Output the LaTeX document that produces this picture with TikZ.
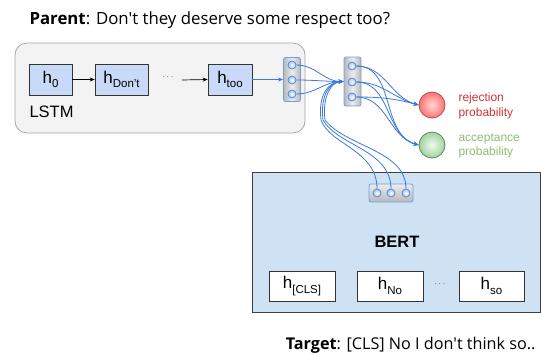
\documentclass[tikz,border=0pt]{standalone}
\usepackage{fontspec}
\setmainfont{Liberation Sans}
\newfontfamily\comic{Open Sans}
\usetikzlibrary{arrows.meta}
\definecolor{lblue}{HTML}{C9DAF8}
\definecolor{bertblue}{HTML}{CFE2F3}
\definecolor{lstmgray}{HTML}{F3F3F3}
\definecolor{lnblue}{HTML}{3C78D8}
\definecolor{vecedge}{HTML}{6D9EEB}
\definecolor{dotfill}{HTML}{A4C2F4}
\definecolor{redtxt}{HTML}{CC3333}
\definecolor{greentxt}{HTML}{8FBC6F}
\newcommand{\hsub}[1]{h\raisebox{-4.5pt}{\fontsize{11.5}{11.5}\selectfont #1}}
\begin{document}
\begin{tikzpicture}[x=1pt,y=-1pt,
  hbox/.style={draw=black!80,line width=0.6pt,fill=lblue,minimum height=31pt,inner sep=0pt,font=\fontsize{17}{17}\selectfont},
  wbox/.style={draw=black!80,line width=0.6pt,fill=white,minimum height=30pt,minimum width=66pt,inner sep=0pt,font=\fontsize{17}{17}\selectfont},
  vecv/.style={draw=vecedge,line width=0.8pt,rounded corners=2pt,left color=gray!55,right color=gray!55,middle color=gray!15,minimum width=17pt,inner sep=0pt},
  vech/.style={draw=vecedge,line width=0.8pt,rounded corners=2pt,top color=gray!15,bottom color=gray!55,minimum height=18pt,minimum width=44pt,inner sep=0pt},
  dot/.style={circle,draw=lnblue,line width=0.6pt,inner color=white,outer color=dotfill,minimum size=8pt,inner sep=0pt},
  bl/.style={draw=lnblue,line width=0.8pt},
  blarr/.style={bl,-{Stealth[length=5pt,width=4pt]}},
  karr/.style={draw=black,line width=0.7pt,-{Stealth[length=5pt,width=4pt]}}
]
\useasboundingbox (0,0) rectangle (541,356);
% title
\node[anchor=west,font=\comic\fontsize{16.8}{16.8}\selectfont] (title) at (26,20) {\textbf{Parent}: Don't they deserve some respect too?};
% LSTM box
\node[draw=gray!70,line width=0.8pt,fill=lstmgray,rounded corners=12pt,minimum width=290pt,minimum height=90pt,inner sep=0pt] (lstm) at (160,88) {};
\node[anchor=west,font=\fontsize{16.5}{16.5}\selectfont] (lstmlab) at (26,112) {LSTM};
\node[hbox,minimum width=43pt] (h0) at (50.5,79.5) {\hsub{0}};
\node[hbox,minimum width=53pt] (hd) at (121.5,79.5) {\hsub{Don't}};
\node[hbox,minimum width=44pt] (ht) at (230,79.5) {\hsub{too}};
\node[font=\fontsize{9}{9}\selectfont] (dots1) at (168,77) {$\cdots$};
\coordinate (a2s) at (182,80);
\draw[karr] (h0) -- (hd);
\draw[karr] (a2s) -- (ht.west);
% vector 1
\node[vecv,minimum height=44pt] (v1) at (292,79.5) {};
\draw[blarr] (ht.east) -- (v1.west);
% vector 2
\node[vecv,minimum height=49pt] (v2) at (352.5,81.5) {};
% BERT
\node[draw=black!75,line width=0.8pt,fill=bertblue,minimum width=288pt,minimum height=140pt,inner sep=0pt] (bert) at (396,242) {};
\node[font=\bfseries\fontsize{16.5}{16.5}\selectfont] (bertlab) at (397,242) {BERT};
\node[wbox] (hcls) at (302,286) {\hsub{[CLS]}};
\node[wbox] (hno) at (390,286) {\hsub{No}};
\node[wbox,minimum width=65pt] (hso) at (491.5,286) {\hsub{so}};
\node[font=\fontsize{9}{9}\selectfont] (dots2) at (440,284) {$\cdots$};
% vector 3
\node[vech] (v3) at (391,193) {};
% circles in vectors
\node[dot] (c11) at (292,65) {};
\node[dot] (c12) at (292,80) {};
\node[dot] (c13) at (292,94) {};
\node[dot] (c21) at (352,66) {};
\node[dot] (c22) at (352,82) {};
\node[dot] (c23) at (352,97) {};
\node[dot] (c31) at (377,193) {};
\node[dot] (c32) at (391,193) {};
\node[dot] (c33) at (406,193) {};
% outputs
\node[circle,draw=red!60!black!70,line width=0.8pt,inner color=red!15,outer color=red!55,minimum size=26pt,inner sep=0pt] (rej) at (432,105) {};
\node[circle,draw=green!40!black!70,line width=0.8pt,inner color=green!8,outer color=green!45!black!35,minimum size=26pt,inner sep=0pt] (acc) at (432,145) {};
\node[anchor=west,align=left,text=redtxt,font=\fontsize{12}{14.5}\selectfont] (rejlab) at (455,106) {rejection\\probability};
\node[anchor=west,align=left,text=greentxt,font=\fontsize{12}{14.5}\selectfont] (acclab) at (455,146) {acceptance\\probability};
% connectors v1 -> v2
\foreach \c in {c11,c12,c13}{
  \draw[blarr] (\c.east) to[out=0,in=180] (v2.west);
}
% v3 -> v2
\draw[blarr] (c31.north) .. controls (377,150) and (330,145) .. (321,120) .. controls (318,95) and (328,82) .. (v2.west);
\draw[blarr] (c32.north) .. controls (391,150) and (338,146) .. (323,120) .. controls (320,95) and (330,82) .. (v2.west);
\draw[blarr] (c33.north) .. controls (406,150) and (346,147) .. (325,120) .. controls (322,95) and (332,82) .. (v2.west);
% v2 -> outputs
\foreach \c in {c21,c22,c23}{
  \draw[blarr] (\c.east) to[out=0,in=165] (rej.west);
  \draw[blarr] (\c.east) to[out=0,in=165] (acc.west);
}
% target
\node[anchor=east,font=\comic\fontsize{16.2}{16.2}\selectfont] (target) at (539,345) {\textbf{Target}: [CLS] No I don't think so..};
\end{tikzpicture}
\end{document}
